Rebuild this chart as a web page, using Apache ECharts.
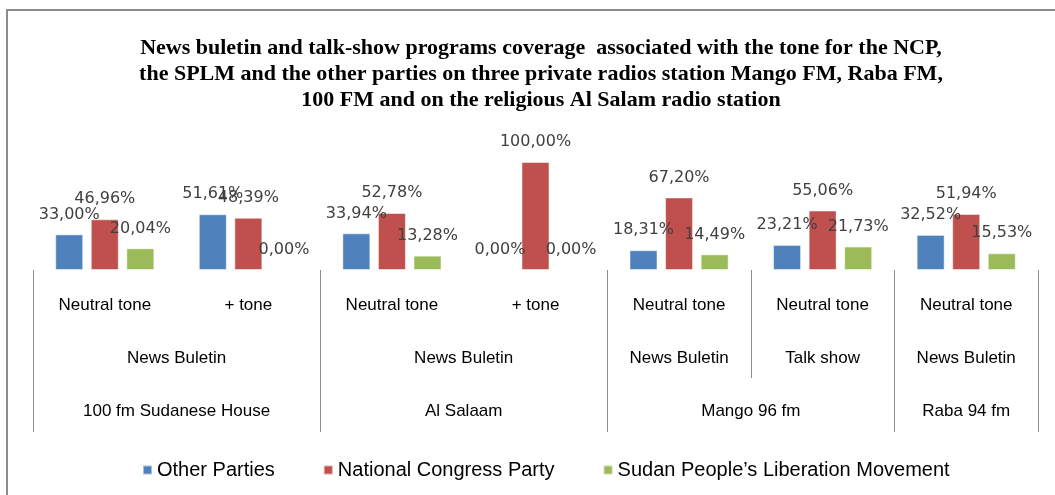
<!DOCTYPE html>
<html>
<head>
<meta charset="utf-8">
<script src="https://cdn.jsdelivr.net/npm/echarts@6/dist/echarts.min.js"></script>
<style>
  html, body { margin: 0; padding: 0; background: #fff; }
  #frame { position: absolute; left: 6px; top: 9px; width: 1100px; height: 540px; border: 2px solid #8c8c8c; box-sizing: border-box; }
  #chart { position: absolute; left: 0; top: 0; width: 1055px; height: 495px; }
</style>
</head>
<body>
<div id="frame"></div>
<div id="chart"></div>
<script>
// ---- data ----
const titleText = 'News buletin and talk-show programs coverage  associated with the tone for the NCP,\nthe SPLM and the other parties on three private radios station Mango FM, Raba FM,\n100 FM and on the religious Al Salam radio station';
const toneLabels = ['Neutral tone', '+ tone', 'Neutral tone', '+ tone', 'Neutral tone', 'Neutral tone', 'Neutral tone'];
const programLabels = ['News Buletin', 'News Buletin', 'News Buletin', 'Talk show', 'News Buletin'];
const programSpans = [2, 2, 1, 1, 1];
const stationLabels = ['100 fm Sudanese House', 'Al Salaam', 'Mango 96 fm', 'Raba 94 fm'];
const stationSpans = [2, 2, 2, 1];
const seriesNames = ['Other Parties', 'National Congress Party', 'Sudan People\u2019s Liberation Movement'];
const otherParties = [33.00, 51.61, 33.94, 0.00, 18.31, 23.21, 32.52];
const ncp = [46.96, 48.39, 52.78, 100.00, 67.20, 55.06, 51.94];
const splm = [20.04, 0.00, 13.28, 0.00, 14.49, 21.73, 15.53];

// ---- derived group geometry (in category units) ----
function centers(spans) { let acc = 0; return spans.map(s => { const c = acc + s / 2; acc += s; return c; }); }
function bounds(spans) { let acc = 0; const b = [0]; spans.forEach(s => { acc += s; b.push(acc); }); return b; }
const progCenters = centers(programSpans);
const statCenters = centers(stationSpans);
const statBounds = bounds(stationSpans);
const progBounds = bounds(programSpans).filter(v => statBounds.indexOf(v) < 0);
const nCat = toneLabels.length;

function findLabel(centersArr, labels, v) {
  for (let i = 0; i < centersArr.length; i++) if (Math.abs(centersArr[i] - v) < 1e-6) return labels[i];
  return '';
}

const colors = ['#4F81BD', '#C0504D', '#9BBB59'];
const labelFont = { show: true, position: 'top', distance: 12, color: '#404040', fontFamily: 'DejaVu Sans', fontSize: 16,
  formatter: p => p.value.toFixed(2).replace('.', ',') + '%' };
const catFont = { fontFamily: 'Liberation Sans', fontSize: 17, color: '#000' };

const chart = echarts.init(document.getElementById('chart'), null, { renderer: 'canvas' });
chart.setOption({
  animation: false,
  backgroundColor: 'transparent',
  title: {
    text: titleText, left: 536, textAlign: 'center', top: 30,
    textStyle: { fontFamily: 'Liberation Serif', fontWeight: 'bold', fontSize: 22, lineHeight: 26, color: '#000' }
  },
  legend: {
    left: 137, top: 455, itemWidth: 9, itemHeight: 9, itemGap: 48, icon: 'rect',
    textStyle: { fontFamily: 'Liberation Sans', fontSize: 20, color: '#000' },
    data: seriesNames
  },
  grid: { left: 33, right: 17, top: 162, bottom: 225, outerBoundsMode: 'none' },
  xAxis: [
    { type: 'category', data: toneLabels, position: 'bottom',
      axisLine: { show: false }, axisTick: { show: false }, splitLine: { show: false },
      axisLabel: Object.assign({ margin: 27, interval: 0 }, catFont) },
    { type: 'value', min: 0, max: nCat, position: 'bottom', offset: 0,
      axisLine: { show: false }, splitLine: { show: false },
      axisTick: { show: true, customValues: statBounds, length: 162, lineStyle: { color: '#8c8c8c', width: 1 } },
      axisLabel: Object.assign({ margin: 80, customValues: progCenters, formatter: v => findLabel(progCenters, programLabels, v) }, catFont) },
    { type: 'value', min: 0, max: nCat, position: 'bottom', offset: 0,
      axisLine: { show: false }, splitLine: { show: false },
      axisTick: { show: true, customValues: progBounds, length: 108, lineStyle: { color: '#8c8c8c', width: 1 } },
      axisLabel: Object.assign({ margin: 133, customValues: statCenters, formatter: v => findLabel(statCenters, stationLabels, v) }, catFont) }
  ],
  yAxis: { type: 'value', min: 0, max: 100, show: false, splitLine: { show: false } },
  series: [otherParties, ncp, splm].map((d, i) => ({
    name: seriesNames[i], type: 'bar', data: d, xAxisIndex: 0,
    barWidth: 28, barGap: '27%',
    itemStyle: { color: colors[i], borderColor: 'rgba(255,255,255,0.5)', borderWidth: 1 },
    label: labelFont
  }))
});
</script>
</body>
</html>
